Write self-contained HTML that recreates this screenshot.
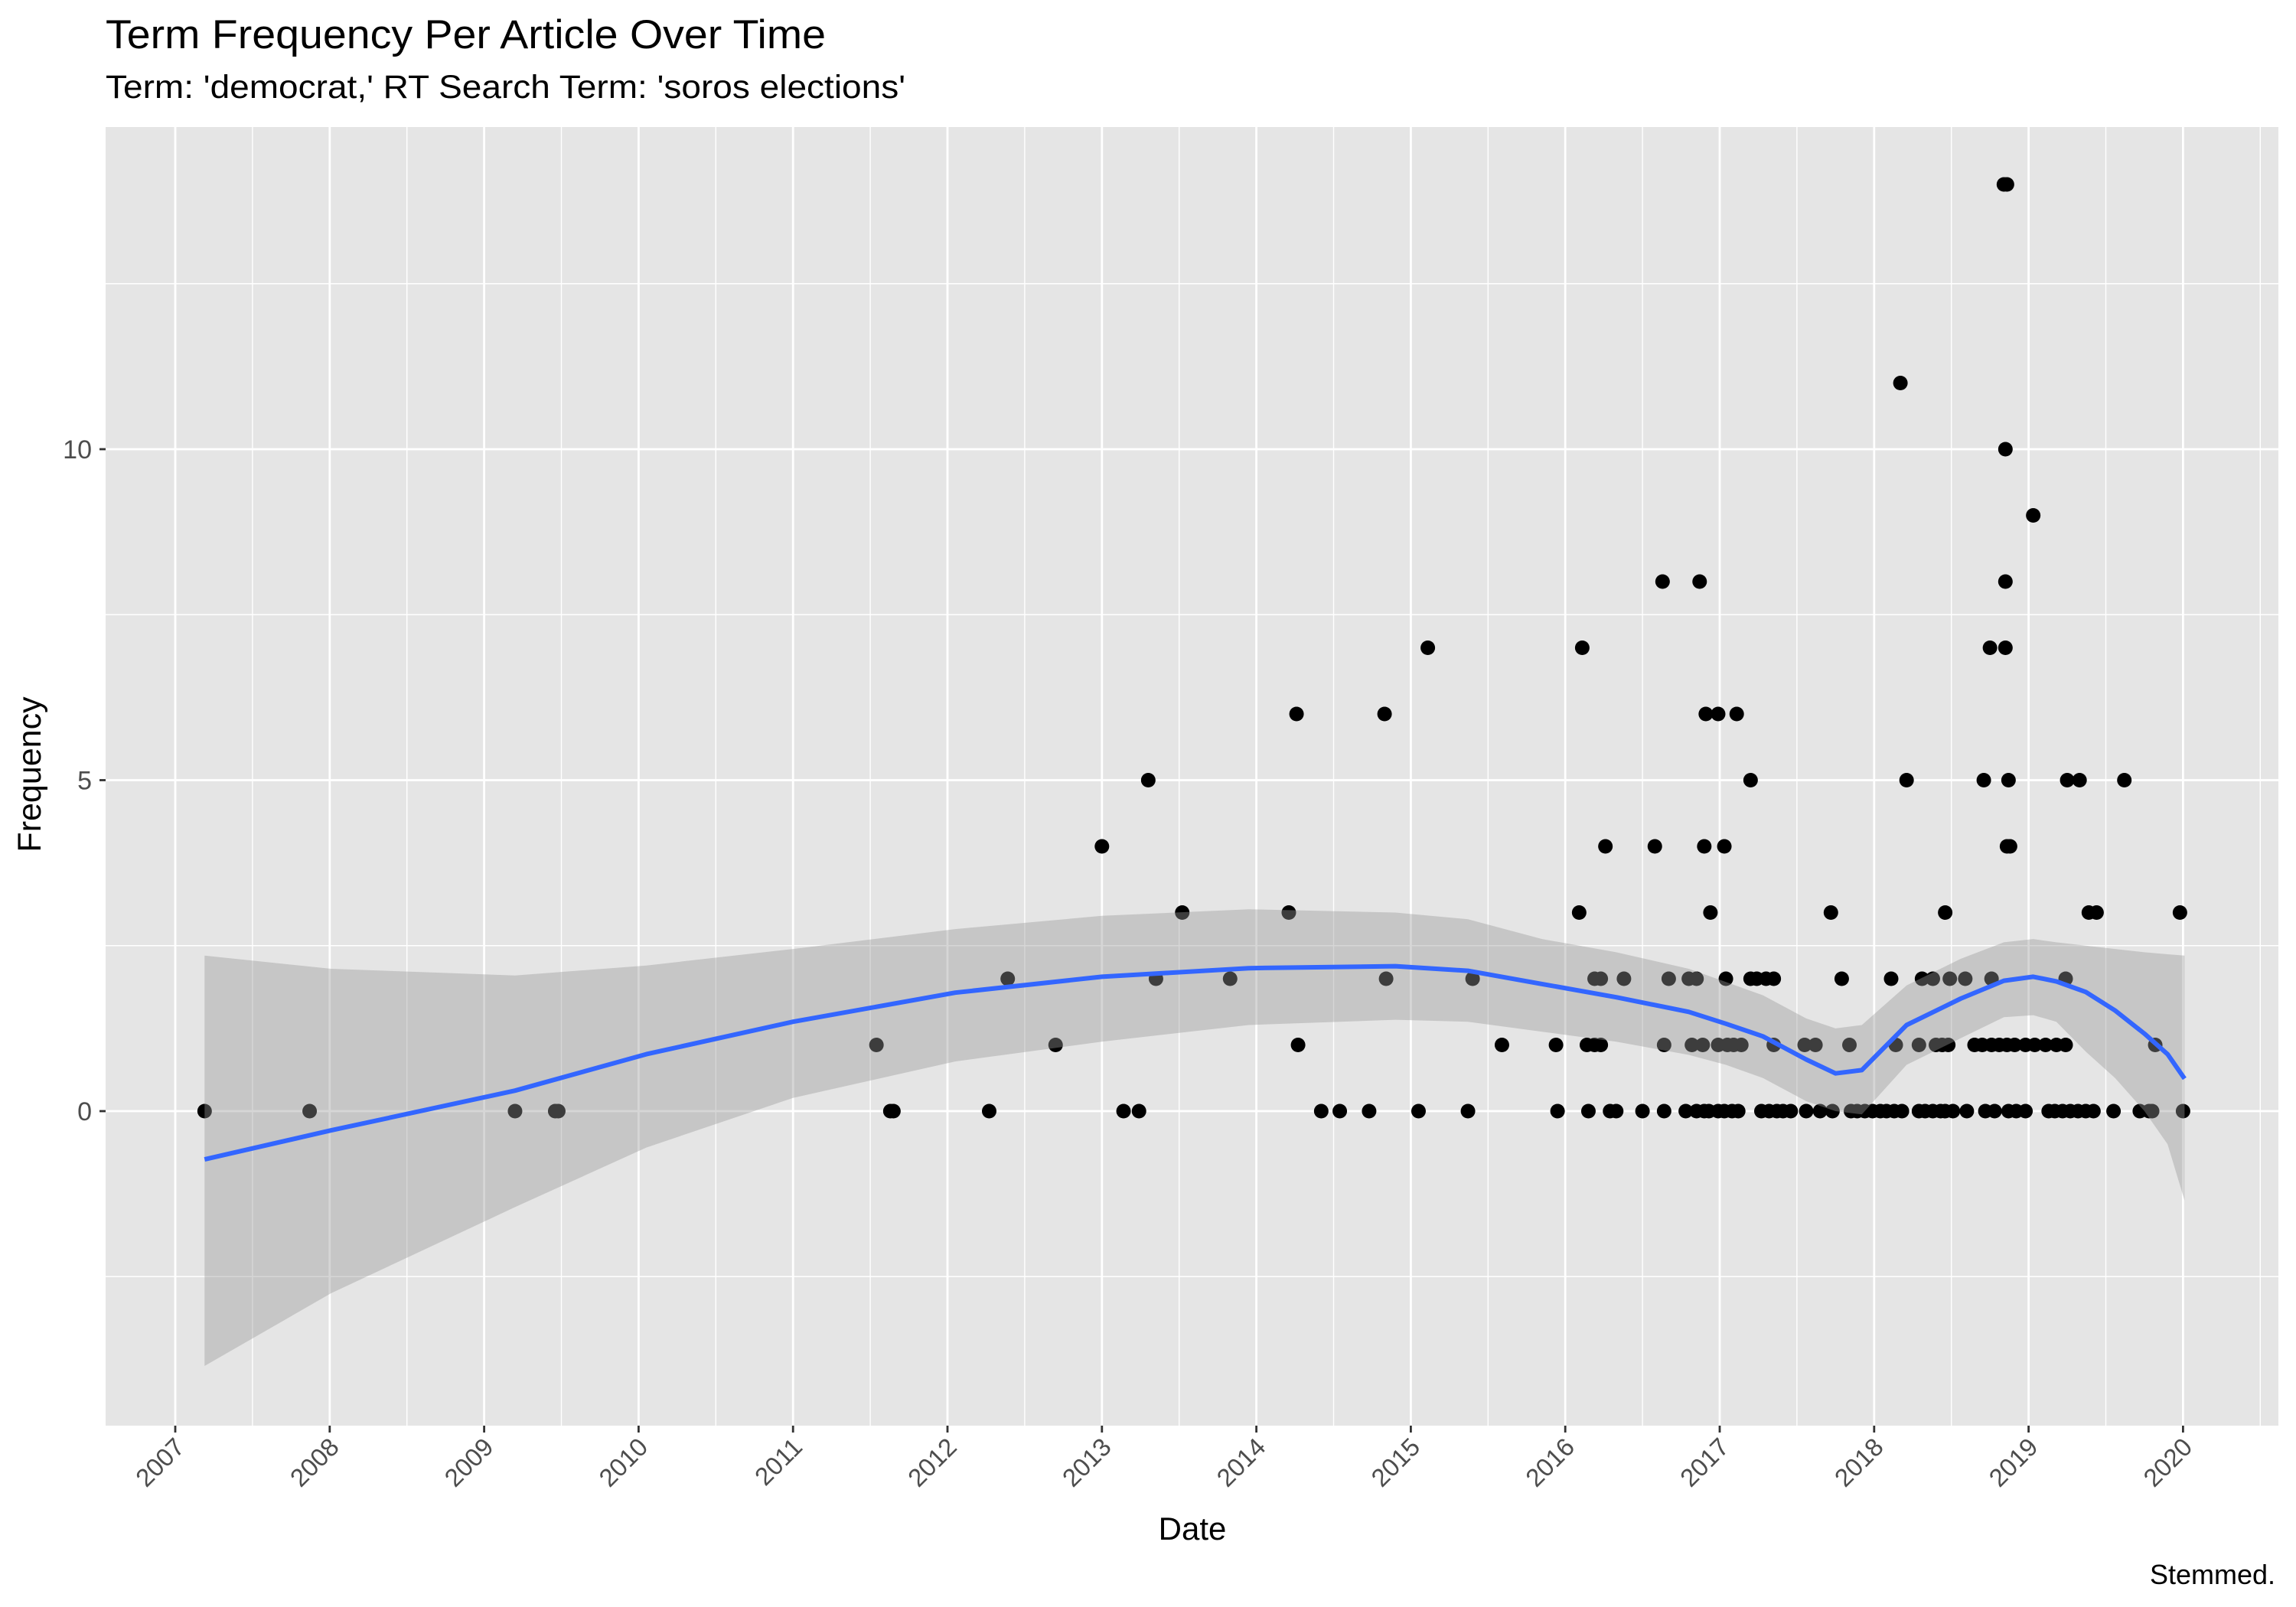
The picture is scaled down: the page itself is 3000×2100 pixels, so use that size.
<!DOCTYPE html>
<html><head><meta charset="utf-8"><style>
html,body{margin:0;padding:0;background:#fff}
svg{display:block}
text{font-family:"Liberation Sans",Arial,sans-serif}
</style></head><body>
<svg id="chart" width="3000" height="2100" viewBox="0 0 3000 2100" xmlns="http://www.w3.org/2000/svg">
<rect x="0" y="0" width="3000" height="2100" fill="#fff"/>
<text x="138" y="63" font-size="53" fill="#000" textLength="941" lengthAdjust="spacingAndGlyphs">Term Frequency Per Article Over Time</text>
<text x="138" y="128" font-size="43" fill="#000" textLength="1045" lengthAdjust="spacingAndGlyphs">Term: 'democrat,' RT Search Term: 'soros elections'</text>
<rect x="138" y="166" width="2839" height="1697" fill="#e5e5e5"/>
<g id="grid"></g>
<g id="points"></g>
<g id="smooth"></g>
<g id="axes"></g>
<text x="1558" y="2012" font-size="42" text-anchor="middle" fill="#000">Date</text>
<text transform="translate(53,1012) rotate(-90)" font-size="43" text-anchor="middle" fill="#000">Frequency</text>
<text x="2973" y="2070" font-size="36" text-anchor="end" fill="#000">Stemmed.</text>
</svg>
<script>
const yearTicks = [2007,2008,2009,2010,2011,2012,2013,2014,2015,2016,2017,2018,2019,2020];
const yTicks = [0,5,10];
const yMinor = [-2.5,2.5,7.5,12.5];
const pointDates = [2007.19,2007.87,2009.2,2009.46,2009.48,2011.54,2011.63,2011.65,2012.27,2012.39,2012.70,2013.0,2013.14,2013.24,2013.30,2013.35,2013.52,2013.83,2014.21,2014.26,2014.27,2014.42,2014.54,2014.73,2014.83,2014.84,2015.05,2015.11,2015.37,2015.40,2015.59,2015.94,2015.95,2016.09,2016.11,2016.14,2016.15,2016.19,2016.23,2016.19,2016.23,2016.26,2016.29,2016.33,2016.38,2016.50,2016.58,2016.63,2016.64,2016.64,2016.67,2016.78,2016.80,2016.85,2016.82,2016.89,2016.87,2016.90,2016.85,2016.90,2016.93,2016.91,2016.94,2016.99,2016.99,2017.05,2017.09,2017.14,2017.04,2017.03,2016.99,2017.03,2017.08,2017.12,2017.11,2017.20,2017.20,2017.24,2017.30,2017.35,2017.35,2017.27,2017.32,2017.37,2017.41,2017.46,2017.55,2017.62,2017.56,2017.65,2017.72,2017.73,2017.79,2017.84,2017.85,2017.89,2017.94,2017.99,2018.04,2018.08,2018.11,2018.17,2018.14,2018.13,2018.18,2018.21,2018.29,2018.31,2018.38,2018.29,2018.33,2018.38,2018.43,2018.40,2018.44,2018.48,2018.46,2018.49,2018.59,2018.46,2018.51,2018.60,2018.71,2018.75,2018.65,2018.70,2018.76,2018.81,2018.76,2018.72,2018.78,2018.84,2018.86,2018.85,2018.85,2018.85,2018.87,2018.86,2018.88,2018.86,2018.91,2018.98,2019.04,2019.11,2019.18,2019.24,2019.03,2018.87,2018.92,2018.98,2019.13,2019.17,2019.22,2019.27,2019.32,2019.37,2019.42,2019.24,2019.25,2019.33,2019.39,2019.44,2019.55,2019.62,2019.72,2019.78,2019.80,2019.82,2020.0,2019.98];
const pointFreqs = [0,0,0,0,0,1,0,0,0,2,1,4,0,0,5,2,3,2,3,6,1,0,0,0,6,2,0,7,0,2,1,1,0,3,7,1,0,1,1,2,2,4,0,0,2,0,4,8,1,0,2,0,2,2,1,1,8,4,0,0,0,6,3,6,1,1,1,1,2,4,0,0,0,0,6,5,2,2,2,2,1,0,0,0,0,0,1,1,0,0,3,0,2,1,0,0,0,0,0,0,2,11,1,0,0,5,1,2,2,0,0,0,0,1,1,1,3,2,2,0,0,0,5,7,1,1,1,1,2,0,0,14,14,10,8,7,5,4,4,1,1,1,1,1,1,1,9,0,0,0,0,0,0,0,0,0,0,2,5,5,3,3,0,5,0,0,0,1,0,3];
const smoothDates = [2007.19,2008.01,2009.2,2010.05,2011.0,2012.05,2013.0,2013.95,2014.9,2015.37,2015.85,2016.33,2016.8,2017.04,2017.28,2017.56,2017.75,2017.92,2018.21,2018.56,2018.84,2019.03,2019.18,2019.37,2019.56,2019.75,2019.9,2020.01];
const smoothFit = [-0.73,-0.29,0.31,0.86,1.35,1.79,2.03,2.16,2.19,2.12,1.92,1.72,1.5,1.32,1.13,0.78,0.57,0.62,1.3,1.7,1.97,2.03,1.96,1.8,1.52,1.17,0.86,0.49];
const smoothUpper = [2.35,2.15,2.05,2.2,2.45,2.75,2.95,3.05,3.0,2.9,2.6,2.4,2.15,1.95,1.75,1.4,1.25,1.3,1.9,2.3,2.55,2.6,2.55,2.5,2.45,2.4,2.37,2.35];
const smoothLower = [-3.85,-2.75,-1.45,-0.55,0.2,0.75,1.05,1.3,1.38,1.35,1.2,1.05,0.85,0.7,0.5,0.15,0.0,-0.05,0.7,1.1,1.42,1.45,1.35,0.9,0.5,0.0,-0.5,-1.35];

const NS='http://www.w3.org/2000/svg';
const PL=138, PR=2977, PT=166, PB=1863;
function xs(yr){return 229 + (yr-2007)*201.8;}
function ys(v){return 1452 - v*86.5;}
function mk(tag, attrs, parent){const e=document.createElementNS(NS,tag);for(const k in attrs)e.setAttribute(k,attrs[k]);parent.appendChild(e);return e;}

const grid=document.getElementById('grid');
yMinor.forEach(v=>{
  const l=mk('line',{x1:PL,x2:PR,y1:ys(v),y2:ys(v),stroke:'#fff','stroke-width':1.4},grid);
  
  
});
yearTicks.forEach(y=>{
  const xm=xs(y+0.5);
  if(xm<PR){const l=mk('line',{x1:xm,x2:xm,y1:PT,y2:PB,stroke:'#fff','stroke-width':1.4},grid);
  
  }
});
{const xm=xs(2006.5); if(xm>PL){const l=mk('line',{x1:xm,x2:xm,y1:PT,y2:PB,stroke:'#fff','stroke-width':1.4},grid);

}}
yTicks.forEach(v=>{
  const l=mk('line',{x1:PL,x2:PR,y1:ys(v),y2:ys(v),stroke:'#fff','stroke-width':2.8},grid);
  
  
});
yearTicks.forEach(y=>{
  const l=mk('line',{x1:xs(y),x2:xs(y),y1:PT,y2:PB,stroke:'#fff','stroke-width':2.8},grid);
  
  
});

const pts=document.getElementById('points');
pointDates.forEach((d,i)=>{
  const c=mk('circle',{cx:xs(d),cy:ys(pointFreqs[i]),r:9.5,fill:'#000'},pts);
  
  
});

const sm=document.getElementById('smooth');
let band='';
smoothDates.forEach((d,i)=>{band+=(i?'L':'M')+xs(d).toFixed(1)+','+ys(smoothUpper[i]).toFixed(1);});
for(let i=smoothDates.length-1;i>=0;i--){band+='L'+xs(smoothDates[i]).toFixed(1)+','+ys(smoothLower[i]).toFixed(1);}
band+='Z';
const rb=mk('path',{d:band,fill:'#999999','fill-opacity':0.4},sm);


let line='';
smoothDates.forEach((d,i)=>{line+=(i?'L':'M')+xs(d).toFixed(1)+','+ys(smoothFit[i]).toFixed(1);});
const ln=mk('path',{d:line,fill:'none',stroke:'#3366ff','stroke-width':6,'stroke-linejoin':'round'},sm);



const ax=document.getElementById('axes');
yTicks.forEach(v=>{
  const t=mk('line',{x1:PL-8,x2:PL,y1:ys(v),y2:ys(v),stroke:'#333','stroke-width':2.8},ax);
  
  
  const tx=mk('text',{x:PL-18,y:ys(v)+12,'font-size':34,'text-anchor':'end',fill:'#4d4d4d'},ax);
  tx.textContent=String(v);
  
  
});
yearTicks.forEach(y=>{
  const x=xs(y);
  const t=mk('line',{x1:x,x2:x,y1:PB,y2:PB+9,stroke:'#333','stroke-width':2.8},ax);
  
  
  const tx=mk('text',{transform:'translate('+(x+14)+','+(PB+30)+') rotate(-45)','font-size':33,'text-anchor':'end',fill:'#4d4d4d'},ax);
  tx.textContent=String(y);
  
  
});
</script>
</body></html>
